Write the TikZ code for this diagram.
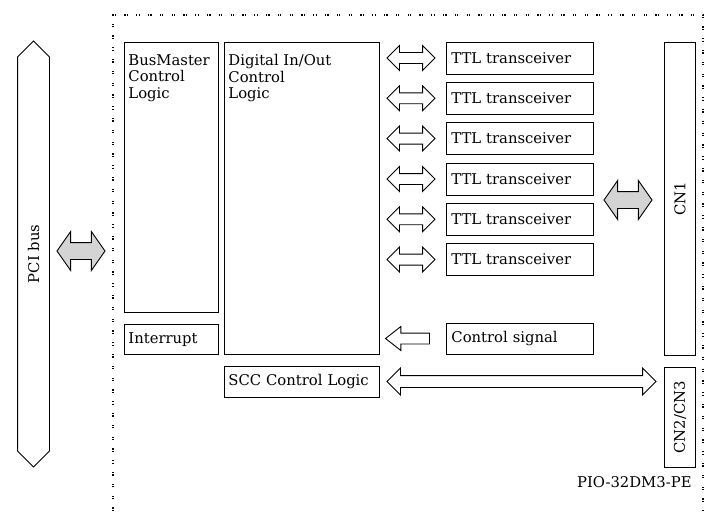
\documentclass[tikz,border=0pt]{standalone}
\usepackage{fontspec}
\setmainfont{DejaVu Serif}
\usetikzlibrary{shapes.arrows}

\begin{document}
\begin{tikzpicture}[x=1pt,y=-1pt, line width=0.9pt,
    font=\fontsize{14.8}{16.6}\selectfont,
    box/.style={draw, inner xsep=5pt, inner ysep=0pt, align=left},
    txt/.style={inner sep=0pt, anchor=north west, align=left},
    board/.style={line width=1.2pt, dash pattern=on 1.2pt off 1.2pt on 1.2pt off 8.2pt},
    hollow/.style={draw, fill=white, double arrow, double arrow tip angle=90,
        double arrow head extend=7pt, double arrow head indent=0pt,
        inner xsep=0pt, inner ysep=5pt, minimum height=48pt},
    grayarrow/.style={hollow, fill=black!17, double arrow tip angle=110,
        double arrow head extend=11pt, inner ysep=8pt}]
    \useasboundingbox (0,0) rectangle (711,511);
    % board outline
    \draw[board] (113,511) -- (113,15) -- (703,15) -- (703,511);
    % PCI bus
    \node[draw, double arrow, double arrow tip angle=90, double arrow head extend=0pt,
        inner xsep=0pt, inner ysep=15.5pt, minimum height=426pt, rotate=90] (pci) at (33.5,254) {};
    \node[rotate=90] (pcitext) at (pci) {PCI bus};
    \node[grayarrow] (pciarr) at (81,251) {};
    % logic blocks
    \node[box, minimum width=94pt, minimum height=270pt, anchor=north west] (busmaster) at (124,42) {};
    \node[txt] at ([shift={(4pt,-12pt)}]busmaster.north west) {BusMaster\\Control\\Logic};
    \node[box, minimum width=155pt, minimum height=312pt, anchor=north west] (dio) at (224,42) {};
    \node[txt] at ([shift={(4pt,-12pt)}]dio.north west) {Digital In/Out\\Control\\Logic};
    \node[box, text width=86pt, minimum height=30pt, anchor=north west, inner xsep=4pt] (irq) at (124,324) {Interrupt};
    \node[box, text width=147pt, minimum height=31pt, anchor=north west, inner xsep=4pt] (scc) at (224,366) {SCC Control Logic};
    % transceivers
    \foreach \i/\y in {1/58,2/98.3,3/138.6,4/179,5/219.3,6/259.6} {
        \node[box, text width=137pt, minimum height=32pt, anchor=west] (ttl\i) at (446,\y) {TTL transceiver};
        \node[hollow] (ttlarr\i) at (411,\y) {};
    }
    \node[box, text width=137pt, minimum height=31pt, anchor=north west] (ctrl) at (446,323) {Control signal};
    \node[draw, fill=white, single arrow, single arrow tip angle=76, single arrow head extend=6.5pt,
        single arrow head indent=0pt, inner xsep=0pt, inner ysep=5pt, minimum height=44pt,
        shape border rotate=180] (ctrlarr) at (411,338.5) {};
    \node[hollow, minimum height=269pt, double arrow head extend=7.5pt, inner ysep=5.5pt] (sccarr) at (521.5,381.5) {};
    % connectors
    \node[box, minimum width=31pt, minimum height=313pt, anchor=north west] (cn1) at (664,42) {};
    \node[rotate=90] at (cn1) {CN1};
    \node[grayarrow] (cn1arr) at (628,200) {};
    \node[box, minimum width=31pt, minimum height=100pt, anchor=north west] (cn23) at (664,367) {};
    \node[rotate=90] at (cn23) {CN2/CN3};
    \node[anchor=south east, inner sep=0pt] (model) at (692,488) {PIO-32DM3-PE};
\end{tikzpicture}
\end{document}
